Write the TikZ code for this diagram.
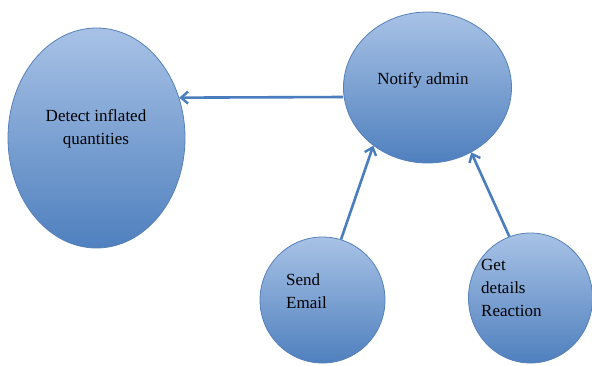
\documentclass[tikz,border=0pt]{standalone}
\usepackage{fontspec}
\setmainfont{Liberation Serif}
\usetikzlibrary{arrows.meta,shapes.geometric}
\definecolor{topblue}{RGB}{168,194,230}
\definecolor{botblue}{RGB}{79,128,190}
\definecolor{edgeblue}{RGB}{86,128,186}
\definecolor{arrowblue}{RGB}{74,125,190}
\tikzset{
  bubble/.style={ellipse, draw=edgeblue, line width=0.8pt, top color=topblue, bottom color=botblue, shading angle=0, inner sep=0pt},
  txt/.style={font=\fontsize{17}{23}\selectfont, text=black, inner sep=0pt},
  conn/.style={draw=arrowblue, line width=2.6pt, -{Straight Barb[length=7pt,width=12pt,line width=2.4pt]}}
}
\begin{document}
\begin{tikzpicture}[x=1pt,y=-1pt]
\useasboundingbox (0,0) rectangle (592,365);
\node[bubble, minimum width=177pt, minimum height=220pt] (D) at (96.5,138) {};
\node[bubble, minimum width=168pt, minimum height=151pt] (N) at (427.5,87.5) {};
\node[bubble, minimum width=125pt, minimum height=126pt] (S) at (322.5,300) {};
\node[bubble, minimum width=124pt, minimum height=130pt] (G) at (530.5,298) {};
\node[txt, align=center] (Dt) at (96,128.5) {Detect inflated\\quantities};
\node[txt] (Nt) at (423,80) {Notify admin};
\node[txt, align=left, anchor=west] (St) at (286,291) {Send\\Email};
\node[txt, align=left, anchor=west] (Gt) at (481,288) {Get\\details\\Reaction};
\draw[conn] ([yshift=-9.5pt]N.west) -- (D.26.5);
\draw[conn] (S.73.7) -- (N.227.5);
\draw[conn] (G.109) -- (N.304.2);
\end{tikzpicture}
\end{document}
